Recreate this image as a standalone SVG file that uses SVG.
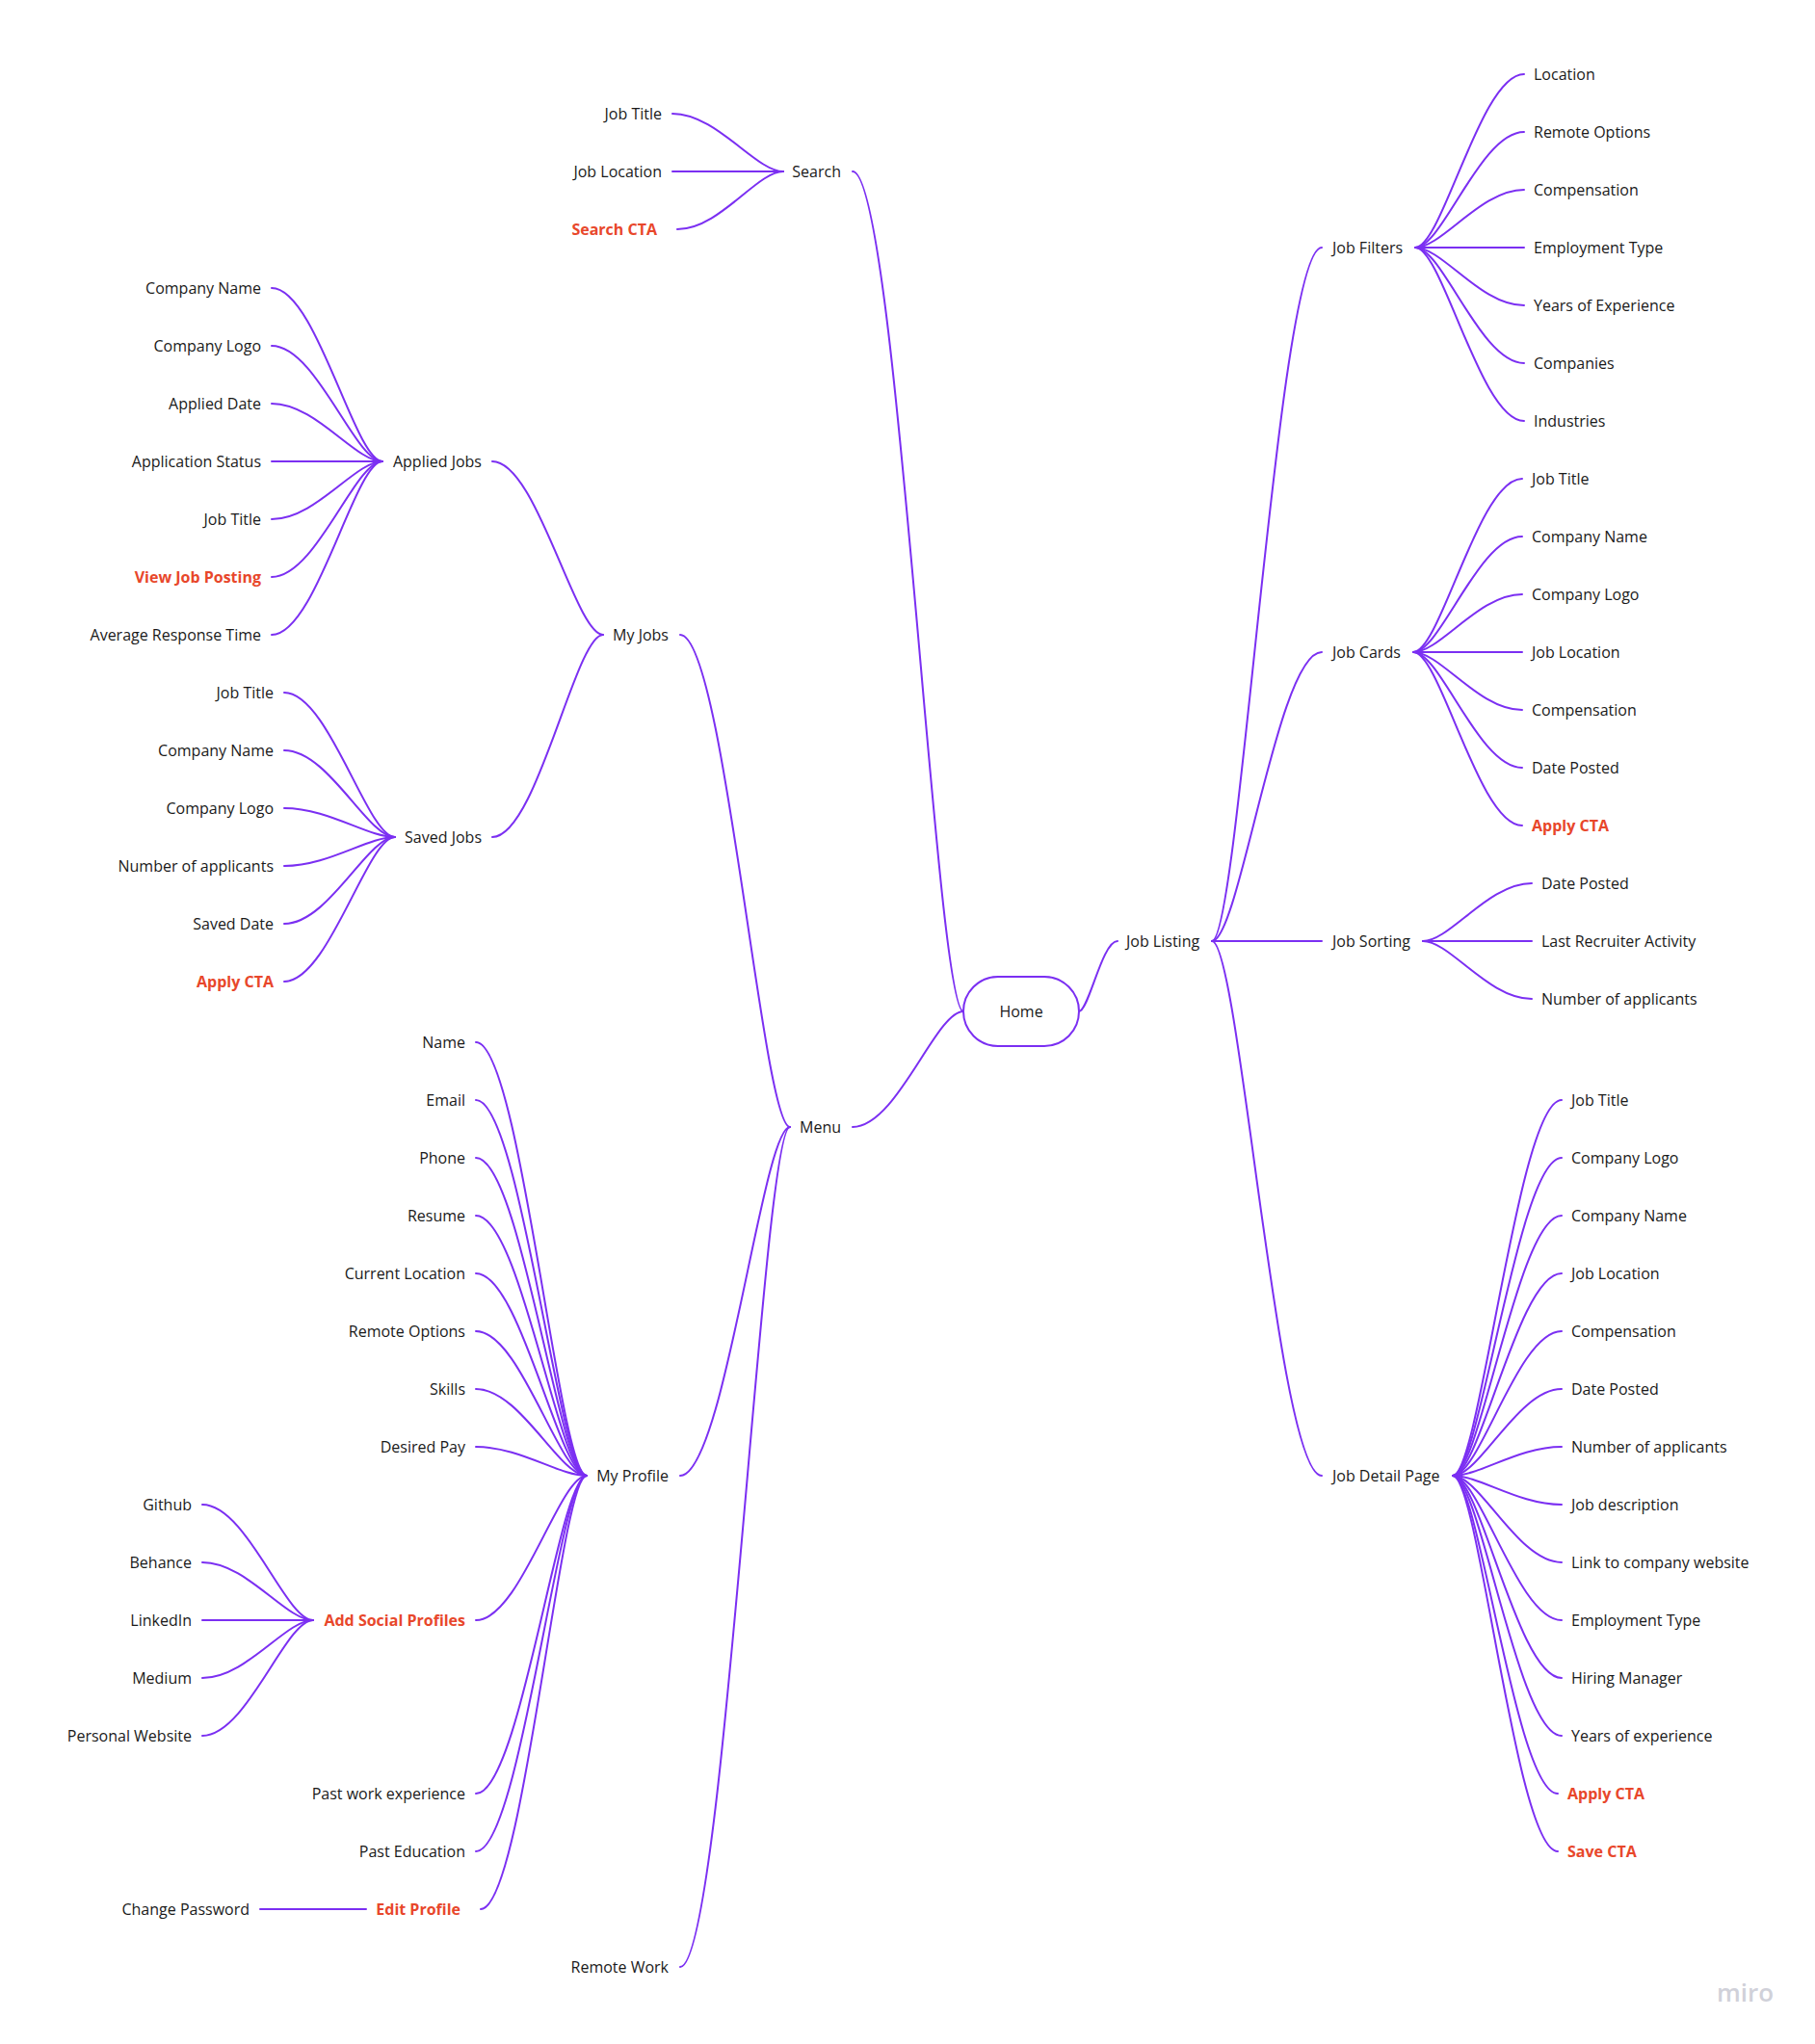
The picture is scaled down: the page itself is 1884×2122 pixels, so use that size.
<svg xmlns="http://www.w3.org/2000/svg" width="1884" height="2122" viewBox="0 0 1884 2122">
<style>
.t{font-family:"Open Sans","Noto Sans",sans-serif;font-size:16px;fill:#1a1a1a}
.r{text-anchor:end}
.cta{fill:#e8472b;font-weight:700}
.c{fill:none;stroke:#7b2ff2;stroke-width:2;stroke-linecap:round}
.box{fill:#ffffff;stroke:#7b2ff2;stroke-width:2}
.logo{font-family:"Open Sans","Noto Sans",sans-serif;font-size:26px;font-weight:600;fill:#d0d1d9}
</style>
<rect width="1884" height="2122" fill="#ffffff"/>
<g id="connectors">
<path class="c" d="M1120 1050 C1130 1050 1144 977 1160 977"/>
<path class="c" d="M1258 977 C1286.5 977 1326.4 257 1372 257"/>
<path class="c" d="M1258 977 C1286.5 977 1326.4 677 1372 677"/>
<path class="c" d="M1258 977 L1372 977"/>
<path class="c" d="M1258 977 C1286.5 977 1326.4 1532 1372 1532"/>
<path class="c" d="M1469 257 C1497.25 257 1536.8 77 1582 77"/>
<path class="c" d="M1469 257 C1497.25 257 1536.8 137 1582 137"/>
<path class="c" d="M1469 257 C1497.25 257 1536.8 197 1582 197"/>
<path class="c" d="M1469 257 L1582 257"/>
<path class="c" d="M1469 257 C1497.25 257 1536.8 317 1582 317"/>
<path class="c" d="M1469 257 C1497.25 257 1536.8 377 1582 377"/>
<path class="c" d="M1469 257 C1497.25 257 1536.8 437 1582 437"/>
<path class="c" d="M1467 677 C1495.25 677 1534.8 497 1580 497"/>
<path class="c" d="M1467 677 C1495.25 677 1534.8 557 1580 557"/>
<path class="c" d="M1467 677 C1495.25 677 1534.8 617 1580 617"/>
<path class="c" d="M1467 677 L1580 677"/>
<path class="c" d="M1467 677 C1495.25 677 1534.8 737 1580 737"/>
<path class="c" d="M1467 677 C1495.25 677 1534.8 797 1580 797"/>
<path class="c" d="M1467 677 C1495.25 677 1534.8 857 1580 857"/>
<path class="c" d="M1477 977 C1505.25 977 1544.8 917 1590 917"/>
<path class="c" d="M1477 977 L1590 977"/>
<path class="c" d="M1477 977 C1505.25 977 1544.8 1037 1590 1037"/>
<path class="c" d="M1508 1532 C1536.25 1532 1575.8 1142 1621 1142"/>
<path class="c" d="M1508 1532 C1536.25 1532 1575.8 1202 1621 1202"/>
<path class="c" d="M1508 1532 C1536.25 1532 1575.8 1262 1621 1262"/>
<path class="c" d="M1508 1532 C1536.25 1532 1575.8 1322 1621 1322"/>
<path class="c" d="M1508 1532 C1536.25 1532 1575.8 1382 1621 1382"/>
<path class="c" d="M1508 1532 C1536.25 1532 1575.8 1442 1621 1442"/>
<path class="c" d="M1508 1532 C1536.25 1532 1575.8 1502 1621 1502"/>
<path class="c" d="M1508 1532 C1536.25 1532 1575.8 1562 1621 1562"/>
<path class="c" d="M1508 1532 C1536.25 1532 1575.8 1622 1621 1622"/>
<path class="c" d="M1508 1532 C1536.25 1532 1575.8 1682 1621 1682"/>
<path class="c" d="M1508 1532 C1536.25 1532 1575.8 1742 1621 1742"/>
<path class="c" d="M1508 1532 C1536.25 1532 1575.8 1802 1621 1802"/>
<path class="c" d="M1508 1532 C1535.25 1532 1573.4 1862 1617 1862"/>
<path class="c" d="M1508 1532 C1535.25 1532 1573.4 1922 1617 1922"/>
<path class="c" d="M1000 1050 C971.25 1050 931 178 885 178"/>
<path class="c" d="M1000 1050 C971.25 1050 931 1170 885 1170"/>
<path class="c" d="M813 178 C784.25 178 744 118 698 118"/>
<path class="c" d="M813 178 L698 178"/>
<path class="c" d="M813 178 C785.5 178 747 238 703 238"/>
<path class="c" d="M820 1170 C791.5 1170 751.6 659 706 659"/>
<path class="c" d="M820 1170 C791.5 1170 751.6 1532 706 1532"/>
<path class="c" d="M820 1170 C791.5 1170 751.6 2042 706 2042"/>
<path class="c" d="M626 659 C597.25 659 557 479 511 479"/>
<path class="c" d="M626 659 C597.25 659 557 869 511 869"/>
<path class="c" d="M397 479 C368.25 479 328 299 282 299"/>
<path class="c" d="M397 479 C368.25 479 328 359 282 359"/>
<path class="c" d="M397 479 C368.25 479 328 419 282 419"/>
<path class="c" d="M397 479 L282 479"/>
<path class="c" d="M397 479 C368.25 479 328 539 282 539"/>
<path class="c" d="M397 479 C368.25 479 328 599 282 599"/>
<path class="c" d="M397 479 C368.25 479 328 659 282 659"/>
<path class="c" d="M410 869 C381.25 869 341 719 295 719"/>
<path class="c" d="M410 869 C381.25 869 341 779 295 779"/>
<path class="c" d="M410 869 C381.25 869 341 839 295 839"/>
<path class="c" d="M410 869 C381.25 869 341 899 295 899"/>
<path class="c" d="M410 869 C381.25 869 341 959 295 959"/>
<path class="c" d="M410 869 C381.25 869 341 1019 295 1019"/>
<path class="c" d="M609 1532 C580.25 1532 540 1082 494 1082"/>
<path class="c" d="M609 1532 C580.25 1532 540 1142 494 1142"/>
<path class="c" d="M609 1532 C580.25 1532 540 1202 494 1202"/>
<path class="c" d="M609 1532 C580.25 1532 540 1262 494 1262"/>
<path class="c" d="M609 1532 C580.25 1532 540 1322 494 1322"/>
<path class="c" d="M609 1532 C580.25 1532 540 1382 494 1382"/>
<path class="c" d="M609 1532 C580.25 1532 540 1442 494 1442"/>
<path class="c" d="M609 1532 C580.25 1532 540 1502 494 1502"/>
<path class="c" d="M609 1532 C580.25 1532 540 1682 494 1682"/>
<path class="c" d="M609 1532 C580.25 1532 540 1862 494 1862"/>
<path class="c" d="M609 1532 C580.25 1532 540 1922 494 1922"/>
<path class="c" d="M609 1532 C581.5 1532 543 1982 499 1982"/>
<path class="c" d="M325 1682 C296.25 1682 256 1562 210 1562"/>
<path class="c" d="M325 1682 C296.25 1682 256 1622 210 1622"/>
<path class="c" d="M325 1682 L210 1682"/>
<path class="c" d="M325 1682 C296.25 1682 256 1742 210 1742"/>
<path class="c" d="M325 1682 C296.25 1682 256 1802 210 1802"/>
<path class="c" d="M380 1982 L270 1982"/>
</g>
<g id="home"><rect class="box" x="1000" y="1014" width="120" height="72" rx="36"/><text class="t" x="1060" y="1056" text-anchor="middle">Home</text></g>
<g id="job-listing"><text class="t" x="1169" y="983">Job Listing</text></g>
<g id="job-filters"><text class="t" x="1383" y="263">Job Filters</text></g>
<g id="job-cards"><text class="t" x="1383" y="683">Job Cards</text></g>
<g id="job-sorting"><text class="t" x="1383" y="983">Job Sorting</text></g>
<g id="job-detail-page"><text class="t" x="1383" y="1538">Job Detail Page</text></g>
<g id="jf-location"><text class="t" x="1592" y="83">Location</text></g>
<g id="jf-remote"><text class="t" x="1592" y="143">Remote Options</text></g>
<g id="jf-comp"><text class="t" x="1592" y="203">Compensation</text></g>
<g id="jf-emp"><text class="t" x="1592" y="263">Employment Type</text></g>
<g id="jf-years"><text class="t" x="1592" y="323">Years of Experience</text></g>
<g id="jf-companies"><text class="t" x="1592" y="383">Companies</text></g>
<g id="jf-industries"><text class="t" x="1592" y="443">Industries</text></g>
<g id="jc-title"><text class="t" x="1590" y="503">Job Title</text></g>
<g id="jc-cname"><text class="t" x="1590" y="563">Company Name</text></g>
<g id="jc-clogo"><text class="t" x="1590" y="623">Company Logo</text></g>
<g id="jc-loc"><text class="t" x="1590" y="683">Job Location</text></g>
<g id="jc-comp"><text class="t" x="1590" y="743">Compensation</text></g>
<g id="jc-date"><text class="t" x="1590" y="803">Date Posted</text></g>
<g id="jc-apply"><text class="t cta" x="1590" y="863">Apply CTA</text></g>
<g id="js-date"><text class="t" x="1600" y="923">Date Posted</text></g>
<g id="js-recruiter"><text class="t" x="1600" y="983">Last Recruiter Activity</text></g>
<g id="js-applicants"><text class="t" x="1600" y="1043">Number of applicants</text></g>
<g id="jd-title"><text class="t" x="1631" y="1148">Job Title</text></g>
<g id="jd-clogo"><text class="t" x="1631" y="1208">Company Logo</text></g>
<g id="jd-cname"><text class="t" x="1631" y="1268">Company Name</text></g>
<g id="jd-loc"><text class="t" x="1631" y="1328">Job Location</text></g>
<g id="jd-comp"><text class="t" x="1631" y="1388">Compensation</text></g>
<g id="jd-date"><text class="t" x="1631" y="1448">Date Posted</text></g>
<g id="jd-applicants"><text class="t" x="1631" y="1508">Number of applicants</text></g>
<g id="jd-desc"><text class="t" x="1631" y="1568">Job description</text></g>
<g id="jd-link"><text class="t" x="1631" y="1628">Link to company website</text></g>
<g id="jd-emp"><text class="t" x="1631" y="1688">Employment Type</text></g>
<g id="jd-manager"><text class="t" x="1631" y="1748">Hiring Manager</text></g>
<g id="jd-years"><text class="t" x="1631" y="1808">Years of experience</text></g>
<g id="jd-apply"><text class="t cta" x="1627" y="1868">Apply CTA</text></g>
<g id="jd-save"><text class="t cta" x="1627" y="1928">Save CTA</text></g>
<g id="search"><text class="t r" x="873" y="184">Search</text></g>
<g id="s-title"><text class="t r" x="687" y="124">Job Title</text></g>
<g id="s-loc"><text class="t r" x="687" y="184">Job Location</text></g>
<g id="s-cta"><text class="t r cta" x="682" y="244">Search CTA</text></g>
<g id="menu"><text class="t r" x="873" y="1176">Menu</text></g>
<g id="my-jobs"><text class="t r" x="694" y="665">My Jobs</text></g>
<g id="my-profile"><text class="t r" x="694" y="1538">My Profile</text></g>
<g id="remote-work"><text class="t r" x="694" y="2048">Remote Work</text></g>
<g id="applied-jobs"><text class="t r" x="500" y="485">Applied Jobs</text></g>
<g id="saved-jobs"><text class="t r" x="500" y="875">Saved Jobs</text></g>
<g id="aj-cname"><text class="t r" x="271" y="305">Company Name</text></g>
<g id="aj-clogo"><text class="t r" x="271" y="365">Company Logo</text></g>
<g id="aj-date"><text class="t r" x="271" y="425">Applied Date</text></g>
<g id="aj-status"><text class="t r" x="271" y="485">Application Status</text></g>
<g id="aj-title"><text class="t r" x="271" y="545">Job Title</text></g>
<g id="aj-view"><text class="t r cta" x="271" y="605">View Job Posting</text></g>
<g id="aj-avg"><text class="t r" x="271" y="665">Average Response Time</text></g>
<g id="sj-title"><text class="t r" x="284" y="725">Job Title</text></g>
<g id="sj-cname"><text class="t r" x="284" y="785">Company Name</text></g>
<g id="sj-clogo"><text class="t r" x="284" y="845">Company Logo</text></g>
<g id="sj-applicants"><text class="t r" x="284" y="905">Number of applicants</text></g>
<g id="sj-date"><text class="t r" x="284" y="965">Saved Date</text></g>
<g id="sj-apply"><text class="t r cta" x="284" y="1025">Apply CTA</text></g>
<g id="mp-name"><text class="t r" x="483" y="1088">Name</text></g>
<g id="mp-email"><text class="t r" x="483" y="1148">Email</text></g>
<g id="mp-phone"><text class="t r" x="483" y="1208">Phone</text></g>
<g id="mp-resume"><text class="t r" x="483" y="1268">Resume</text></g>
<g id="mp-loc"><text class="t r" x="483" y="1328">Current Location</text></g>
<g id="mp-remote"><text class="t r" x="483" y="1388">Remote Options</text></g>
<g id="mp-skills"><text class="t r" x="483" y="1448">Skills</text></g>
<g id="mp-pay"><text class="t r" x="483" y="1508">Desired Pay</text></g>
<g id="mp-social"><text class="t r cta" x="483" y="1688">Add Social Profiles</text></g>
<g id="mp-work"><text class="t r" x="483" y="1868">Past work experience</text></g>
<g id="mp-edu"><text class="t r" x="483" y="1928">Past Education</text></g>
<g id="mp-edit"><text class="t r cta" x="478" y="1988">Edit Profile</text></g>
<g id="so-github"><text class="t r" x="199" y="1568">Github</text></g>
<g id="so-behance"><text class="t r" x="199" y="1628">Behance</text></g>
<g id="so-linkedin"><text class="t r" x="199" y="1688">LinkedIn</text></g>
<g id="so-medium"><text class="t r" x="199" y="1748">Medium</text></g>
<g id="so-website"><text class="t r" x="199" y="1808">Personal Website</text></g>
<g id="ep-password"><text class="t r" x="259" y="1988">Change Password</text></g>
<g id="logo"><text class="logo" x="1782" y="2078">miro</text></g>
</svg>
